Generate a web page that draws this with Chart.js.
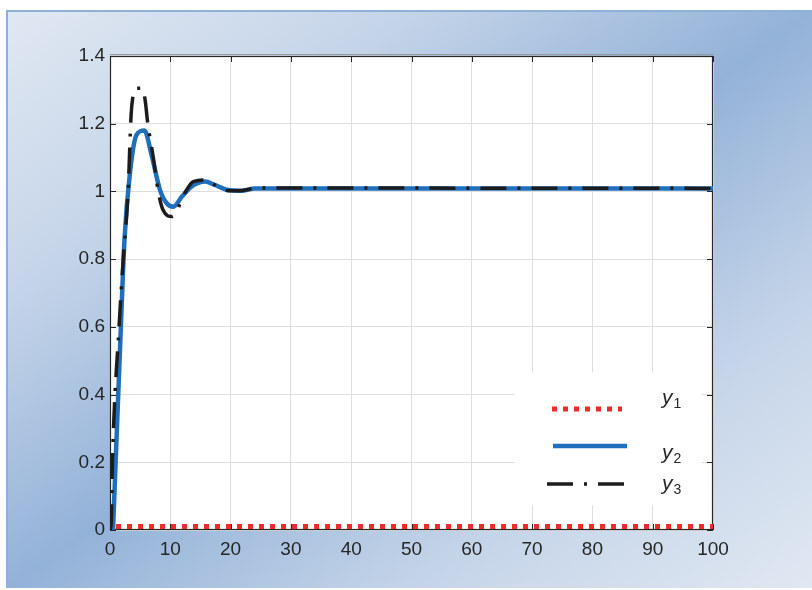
<!DOCTYPE html>
<html>
<head>
<meta charset="utf-8">
<script src="https://cdn.jsdelivr.net/npm/chart.js@4.4.1/dist/chart.umd.min.js"></script>
<style>
  html, body { margin: 0; padding: 0; background: #ffffff; }
  #wrap { position: relative; width: 812px; height: 590px; overflow: hidden; }
  #panel {
    position: absolute; left: 6px; top: 10px; width: 804px; height: 576px;
    border-top: 2px solid #8fb0d8; border-left: 2px solid #8fb0d8;
    background: linear-gradient(to bottom right, #e0e8f2 0%, #c4d4e8 25%, #93b2d8 50%, #c4d4e8 75%, #e0e8f2 100%);
  }
  #chart { position: absolute; left: 0; top: 0; }
</style>
</head>
<body>
<div id="wrap">
  <div id="panel"></div>
  <canvas id="chart" width="812" height="590"></canvas>
</div>
<script>
// Step responses: time samples and outputs of the three systems
const seriesNames = ['y1', 'y2', 'y3'];

const t1 = [1, 100];
const y1 = [0.01, 0.01];

const t2 = [0.5, 1.8, 2.4, 3.3, 4.4, 5.7, 6.9, 8.3, 9.4, 10.5, 11.9, 13.5, 15.8, 17.4, 19.6, 21.8, 24, 100];
const y2 = [0, 0.6, 0.857, 1.053, 1.167, 1.18, 1.107, 1.004, 0.965, 0.955, 0.984, 1.014, 1.029, 1.019, 1.004, 1.002, 1.009, 1.009];

const t3 = [0, 0.2, 0.4, 1.5, 2.2, 3.0, 3.5, 3.8, 4.2, 5.4, 5.9, 6.2, 7.2, 8.0, 8.8, 10.3, 12.4, 13.8, 16.0, 17.4, 19.6, 22.0, 24.5, 100];
const y3 = [0, 0.02, 0.2, 0.6, 0.8, 1.0, 1.226, 1.28, 1.305, 1.305, 1.26, 1.21, 1.098, 1.0, 0.945, 0.926, 0.995, 1.029, 1.034, 1.019, 1.002, 1.003, 1.01, 1.009];

const xTicks = [0, 10, 20, 30, 40, 50, 60, 70, 80, 90, 100];
const yTicks = [0, 0.2, 0.4, 0.6, 0.8, 1.0, 1.2, 1.4];
const yTickLabels = ['0', '0.2', '0.4', '0.6', '0.8', '1', '1.2', '1.4'];

const toPoints = (xs, ys) => xs.map((x, i) => ({ x: x, y: ys[i] }));

const AXIS = '#262626';
const FONT = '"Liberation Sans", Arial, sans-serif';

// White axes background, inward ticks on all four sides, box outline
const axesPlugin = {
  id: 'axesBox',
  beforeDraw(chart) {
    const { ctx, chartArea: a } = chart;
    ctx.save();
    ctx.fillStyle = '#ffffff';
    ctx.fillRect(a.left, a.top, a.right - a.left, a.bottom - a.top);
    ctx.restore();
  },
  beforeDatasetsDraw(chart) {
    const { ctx, chartArea: a, scales } = chart;
    const len = 6;
    ctx.save();
    ctx.strokeStyle = AXIS;
    ctx.lineWidth = 1;
    ctx.beginPath();
    scales.x.ticks.forEach(tk => {
      const px = Math.round(scales.x.getPixelForValue(tk.value)) + 0.5;
      ctx.moveTo(px, a.bottom); ctx.lineTo(px, a.bottom - len);
      ctx.moveTo(px, a.top); ctx.lineTo(px, a.top + len);
    });
    scales.y.ticks.forEach(tk => {
      const py = Math.round(scales.y.getPixelForValue(tk.value)) + 0.5;
      ctx.moveTo(a.left, py); ctx.lineTo(a.left + len, py);
      ctx.moveTo(a.right, py); ctx.lineTo(a.right - len, py);
    });
    ctx.stroke();
    ctx.strokeStyle = '#9a9a9a';
    ctx.beginPath();
    ctx.moveTo(a.left, a.top - 1.5); ctx.lineTo(a.right + 1, a.top - 1.5);
    ctx.stroke();
    ctx.strokeStyle = AXIS;
    ctx.lineWidth = 1.2;
    ctx.strokeRect(a.left + 0.5, a.top + 0.5, a.right - a.left - 1, a.bottom - a.top - 1);
    ctx.restore();
  }
};

// Legend panel in the lower right of the axes
const legendPlugin = {
  id: 'stepLegend',
  afterDatasetsDraw(chart) {
    const { ctx } = chart;
    const box = { x: 514, y: 372, w: 188, h: 133 };
    const rows = [
      { lineY: 409, x0: 552, x1: 622, textY: 404 },
      { lineY: 446, x0: 553, x1: 627, textY: 459 },
      { lineY: 484, x0: 547, x1: 630, textY: 490 }
    ];
    ctx.save();
    ctx.fillStyle = '#ffffff';
    ctx.fillRect(box.x, box.y, box.w, box.h);
    chart.data.datasets.forEach((ds, i) => {
      const r = rows[i];
      ctx.save();
      ctx.strokeStyle = ds.borderColor;
      ctx.lineWidth = ds.borderWidth;
      ctx.setLineDash(ds.borderDash || []);
      ctx.lineCap = 'butt';
      ctx.beginPath();
      ctx.moveTo(r.x0, r.lineY);
      ctx.lineTo(r.x1, r.lineY);
      ctx.stroke();
      ctx.restore();

      const name = ds.label;
      ctx.fillStyle = '#262626';
      ctx.textBaseline = 'alphabetic';
      ctx.textAlign = 'left';
      ctx.font = 'italic 21px ' + FONT;
      ctx.fillText(name[0], 662, r.textY);
      const w = ctx.measureText(name[0]).width;
      ctx.font = '14px ' + FONT;
      ctx.fillText(name.slice(1), 662 + w + 1, r.textY + 4);
    });
    ctx.restore();
  }
};

const chart = new Chart(document.getElementById('chart'), {
  type: 'line',
  data: {
    datasets: [
      {
        label: seriesNames[0],
        data: toPoints(t1, y1),
        borderColor: '#ee2b2b',
        borderWidth: 5,
        borderDash: [5, 6],
        borderCapStyle: 'butt',
        pointRadius: 0,
        order: 2
      },
      {
        label: seriesNames[1],
        data: toPoints(t2, y2),
        borderColor: '#1f6fbd',
        borderWidth: 4.5,
        cubicInterpolationMode: 'monotone',
        pointRadius: 0,
        order: 1
      },
      {
        label: seriesNames[2],
        data: toPoints(t3, y3),
        borderColor: '#1c1c1c',
        borderWidth: 3.5,
        borderDash: [26, 11, 3, 11],
        cubicInterpolationMode: 'monotone',
        pointRadius: 0,
        order: 0
      }
    ]
  },
  options: {
    responsive: false,
    devicePixelRatio: 1,
    animation: false,
    layout: { padding: { left: 0, top: 56, right: 99, bottom: 0 } },
    plugins: { legend: { display: false }, tooltip: { enabled: false } },
    scales: {
      x: {
        type: 'linear',
        min: 0, max: 100,
        afterBuildTicks: s => { s.ticks = xTicks.map(v => ({ value: v })); },
        afterFit: s => { s.height = 60; },
        grid: { color: '#dedede', lineWidth: 1, drawTicks: false },
        border: { display: false },
        ticks: {
          color: AXIS, padding: 8, maxRotation: 0, autoSkip: false,
          font: { family: FONT, size: 19 },
          callback: v => String(v)
        }
      },
      y: {
        type: 'linear',
        min: 0, max: 1.4,
        afterBuildTicks: s => { s.ticks = yTicks.map(v => ({ value: v })); },
        afterFit: s => { s.width = 110; },
        grid: { color: '#dedede', lineWidth: 1, drawTicks: false },
        border: { display: false },
        ticks: {
          color: AXIS, padding: 5, autoSkip: false,
          font: { family: FONT, size: 19 },
          callback: (v, i) => yTickLabels[i]
        }
      }
    }
  },
  plugins: [axesPlugin, legendPlugin]
});
</script>
</body>
</html>
